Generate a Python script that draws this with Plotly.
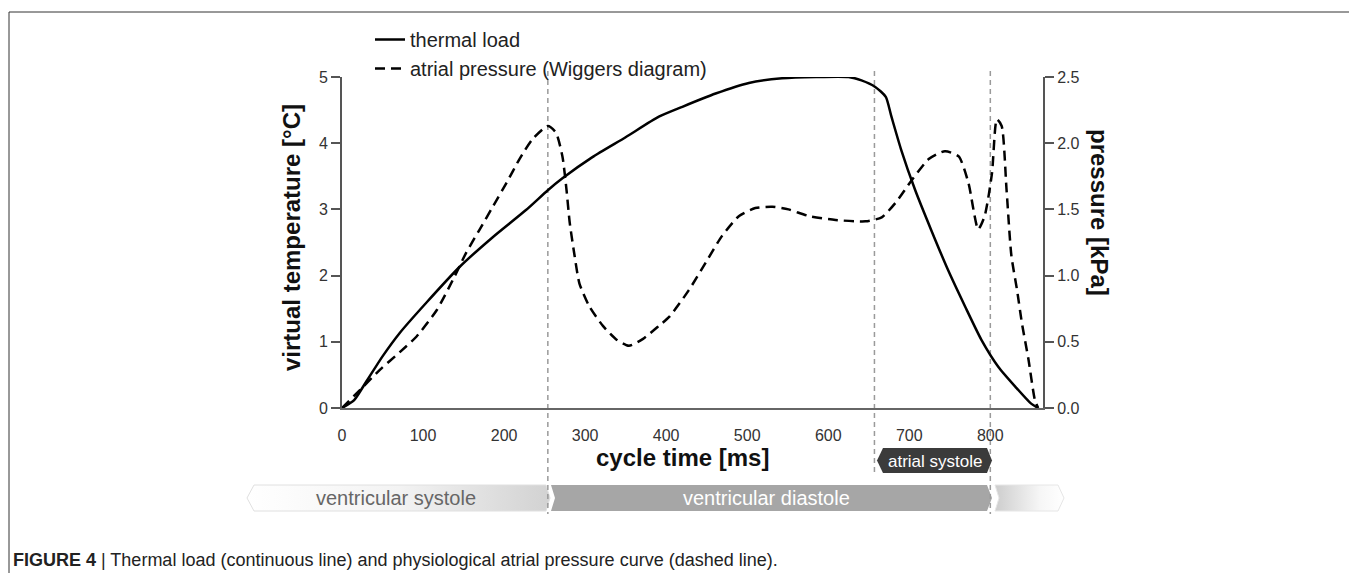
import base64
import plotly.graph_objects as go

# ---------------- data ----------------
thermal_t = [0, 15, 30, 50, 71, 104, 145, 186, 227, 254, 272, 309, 350, 391, 420, 461, 502,
             543, 585, 625, 641, 658, 671, 678, 690, 707, 727, 748, 769, 789, 810, 831, 850, 859]
thermal_T = [0, 0.12, 0.40, 0.78, 1.13, 1.59, 2.13, 2.58, 2.99, 3.29, 3.47, 3.79, 4.09, 4.40, 4.55,
             4.75, 4.91, 4.98, 5.0, 5.0, 4.95, 4.85, 4.70, 4.40, 3.90, 3.30, 2.69, 2.08, 1.53,
             1.03, 0.62, 0.32, 0.07, 0.0]

press_t = [0, 26, 47, 71, 92, 117, 137, 153, 170, 186, 203, 219, 235, 254, 264, 272, 277, 281,
           287, 293, 305, 322, 338, 354, 371, 391, 404, 428, 449, 469, 490, 510, 531, 551, 576,
           609, 646, 666, 683, 703, 724, 744, 761, 773, 785, 793, 802, 808, 814, 820, 826, 833,
           839, 847, 855, 859]
press_kPa = [0, 0.16, 0.29, 0.42, 0.54, 0.74, 0.97, 1.17, 1.35, 1.52, 1.70, 1.88, 2.03, 2.13,
             2.08, 1.90, 1.65, 1.40, 1.15, 0.94, 0.77, 0.62, 0.52, 0.47, 0.52, 0.62, 0.69, 0.89,
             1.10, 1.30, 1.45, 1.51, 1.52, 1.50, 1.45, 1.42, 1.41, 1.44, 1.55, 1.72, 1.88, 1.94,
             1.90, 1.70, 1.35, 1.45, 1.77, 2.18, 2.13, 1.65, 1.15, 0.89, 0.64, 0.37, 0.06, 0.0]

phase_bounds = [254, 657, 800]          # ms: end of ventricular systole, start / end of atrial systole
x_ticks = [0, 100, 200, 300, 400, 500, 600, 700, 800]
temp_ticks = [0, 1, 2, 3, 4, 5]
press_ticks = [0.0, 0.5, 1.0, 1.5, 2.0, 2.5]

# ---------------- layout helpers (screen pixel coordinates) ----------------
W, H = 1357, 573
OFF = 8                            # page body margin
L, R, T, B = 342, 1043, 77, 408    # plot area on screen


def px(xs):
    return (xs - L) / (R - L)


def py(ys):
    return (B - ys) / (B - T)


FONT = "Liberation Sans, Arial, Helvetica, sans-serif"

fig = go.Figure()
fig.add_trace(go.Scatter(x=thermal_t, y=thermal_T, mode="lines", name="thermal load",
                         line=dict(color="black", width=2.5, shape="spline", smoothing=0.6)))
fig.add_trace(go.Scatter(x=press_t, y=press_kPa, mode="lines", name="atrial pressure (Wiggers diagram)",
                         yaxis="y2",
                         line=dict(color="black", width=2.5, dash="10px,6px", shape="spline", smoothing=0.6)))

shapes = []
ends = [514, 475, 514]
for b, e in zip(phase_bounds, ends):
    shapes.append(dict(type="line", xref="x", yref="paper", x0=b, x1=b, y0=py(71), y1=py(e),
                       line=dict(color="#9a9a9a", width=1.5, dash="5px,4px"), layer="below"))


def poly(pts):
    return "M " + " L ".join(f"{px(a):.5f},{py(b):.5f}" for a, b in pts) + " Z"


# atrial systole tag
shapes.append(dict(type="path", xref="paper", yref="paper",
                   path=poly([(877, 460.5), (883, 448), (987, 448), (992, 460.5), (987, 473), (883, 473)]),
                   fillcolor="#3b3b3b", line=dict(width=0), layer="below"))
# outer frame
shapes.append(dict(type="rect", xref="paper", yref="paper", x0=px(9), x1=px(1350), y0=py(700), y1=py(12),
                   line=dict(color="#333", width=1), fillcolor="rgba(0,0,0,0)"))

# decorative phase banners with gradients (inline svg, figure-pixel coordinates)
Y0 = 480


def pts(lst):
    return " ".join(f"{a - OFF},{b - Y0}" for a, b in lst)


svg = f'''<svg xmlns="http://www.w3.org/2000/svg" width="{W}" height="40" viewBox="0 0 {W} 40">
<defs>
<linearGradient id="g1" x1="0" x2="1" y1="0" y2="0"><stop offset="0" stop-color="#ffffff"/><stop offset="0.5" stop-color="#f3f3f3"/><stop offset="1" stop-color="#d2d2d2"/></linearGradient>
<linearGradient id="g2" x1="0" x2="1" y1="0" y2="0"><stop offset="0" stop-color="#cdcdcd"/><stop offset="0.65" stop-color="#f6f6f6"/><stop offset="1" stop-color="#ffffff"/></linearGradient>
</defs>
<polygon points="{pts([(247, 498), (254, 485), (546, 485), (550, 498), (546, 511), (254, 511)])}" fill="url(#g1)" stroke="#e0e0e0" stroke-width="1"/>
<polygon points="{pts([(551, 485), (987, 485), (992, 498), (987, 511), (551, 511), (555, 498)])}" fill="#a6a6a6"/>
<polygon points="{pts([(995, 485), (1058, 485), (1064, 498), (1058, 511), (995, 511), (999, 498)])}" fill="url(#g2)" stroke="#e6e6e6" stroke-width="1"/>
</svg>'''
src = "data:image/svg+xml;base64," + base64.b64encode(svg.encode()).decode()
images = [dict(source=src, xref="paper", yref="paper", x=px(OFF), y=py(Y0), sizex=W / (R - L),
               sizey=40 / (B - T), xanchor="left", yanchor="top", sizing="stretch", layer="below")]


def ann(text, xs, ys, size, color, angle=0, xanchor="center", bold=False):
    return dict(text=f"<b>{text}</b>" if bold else text, xref="paper", yref="paper",
                x=px(xs), y=py(ys), xanchor=xanchor, yanchor="middle", textangle=angle,
                showarrow=False, font=dict(size=size, color=color, family=FONT))


annotations = [
    ann("virtual temperature [°C]", 292, 238, 24, "#111", angle=-90, bold=True),
    ann("pressure [kPa]", 1100, 212, 24, "#111", angle=90, bold=True),
    ann("cycle time [ms]", 682, 457, 24, "#111", bold=True),
    ann("atrial systole", 935, 461, 17, "white"),
    ann("ventricular systole", 396, 498, 20, "#666"),
    ann("ventricular diastole", 766, 498, 20, "white"),
    ann("<b>FIGURE 4</b> | Thermal load (continuous line) and physiological atrial pressure curve (dashed line).",
        11, 560, 18, "#222", xanchor="left"),
]

fig.update_layout(
    width=W, height=H, autosize=False,
    margin=dict(l=L - OFF, r=W - (R - OFF), t=T - OFF, b=H - (B - OFF), pad=0),
    paper_bgcolor="white", plot_bgcolor="white",
    font=dict(family=FONT, color="#333"),
    showlegend=True,
    legend=dict(x=px(370), y=py(20), xanchor="left", yanchor="top", bgcolor="rgba(0,0,0,0)",
                font=dict(size=20, color="#222", family=FONT), tracegroupgap=0, itemwidth=30),
    xaxis=dict(range=[0, 865], tickvals=x_ticks, ticktext=[str(v) for v in x_ticks],
               showline=True, linecolor="#666", linewidth=2, showgrid=False, zeroline=False,
               ticks="outside", ticklen=12, tickcolor="rgba(0,0,0,0)",
               tickfont=dict(size=16, color="#333")),
    yaxis=dict(range=[0, 5], tickvals=temp_ticks, showline=True, linecolor="#555", linewidth=2,
               showgrid=False, zeroline=False, ticks="outside", ticklen=9, tickcolor="#555",
               tickwidth=1.5, tickfont=dict(size=16, color="#333")),
    yaxis2=dict(range=[0, 2.5], tickvals=press_ticks, tickformat=".1f", overlaying="y", side="right",
                showline=True, linecolor="#555", linewidth=2, showgrid=False, zeroline=False,
                ticks="outside", ticklen=9, tickcolor="#555", tickwidth=1.5,
                tickfont=dict(size=16, color="#333")),
    shapes=shapes, annotations=annotations, images=images,
)

fig.write_html("out.html")
